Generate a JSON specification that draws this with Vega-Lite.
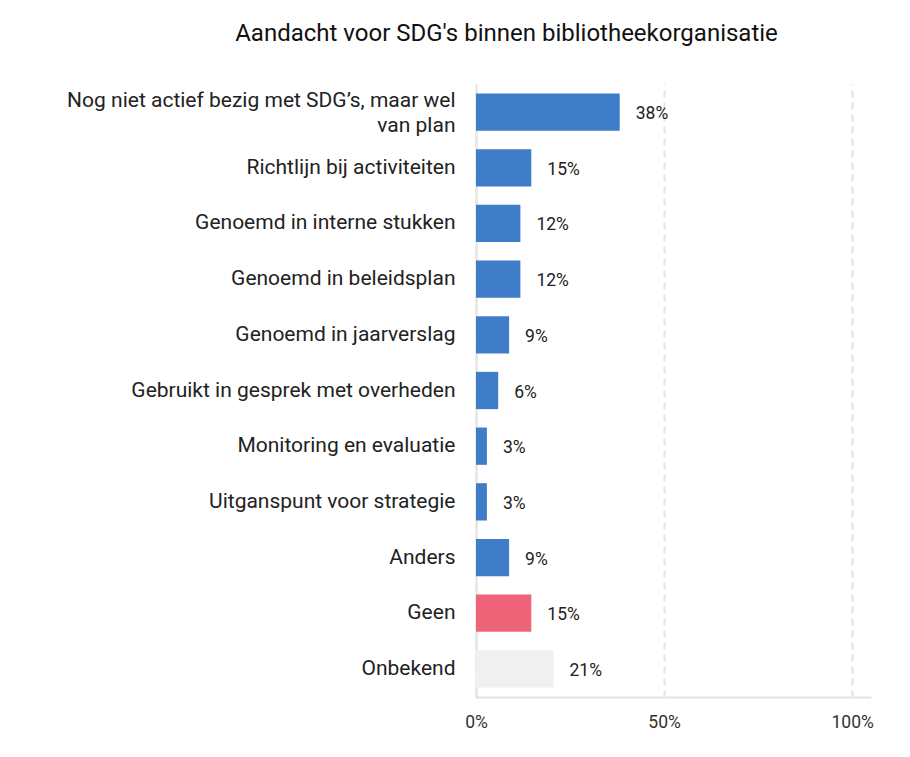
{
  "$schema": "https://vega.github.io/schema/vega-lite/v6.json",
  "autosize": "none",
  "width": 395,
  "height": 613,
  "padding": {"left": 476, "top": 84, "right": 39, "bottom": 60},
  "background": "white",
  "config": {
    "view": {"stroke": null},
    "font": "Roboto"
  },
  "title": {
    "text": "Aandacht voor SDG's binnen bibliotheekorganisatie",
    "anchor": "middle",
    "frame": "group",
    "dx": -167,
    "offset": 38,
    "fontSize": 24,
    "fontWeight": "normal",
    "color": "#111111",
    "font": "Roboto"
  },
  "data": {
    "values": [
      {"categorie": "Nog niet actief bezig met SDG’s, maar wel|van plan", "aandeel": 0.382, "groep": "activiteit"},
      {"categorie": "Richtlijn bij activiteiten", "aandeel": 0.147, "groep": "activiteit"},
      {"categorie": "Genoemd in interne stukken", "aandeel": 0.118, "groep": "activiteit"},
      {"categorie": "Genoemd in beleidsplan", "aandeel": 0.118, "groep": "activiteit"},
      {"categorie": "Genoemd in jaarverslag", "aandeel": 0.088, "groep": "activiteit"},
      {"categorie": "Gebruikt in gesprek met overheden", "aandeel": 0.059, "groep": "activiteit"},
      {"categorie": "Monitoring en evaluatie", "aandeel": 0.029, "groep": "activiteit"},
      {"categorie": "Uitganspunt voor strategie", "aandeel": 0.029, "groep": "activiteit"},
      {"categorie": "Anders", "aandeel": 0.088, "groep": "activiteit"},
      {"categorie": "Geen", "aandeel": 0.147, "groep": "geen"},
      {"categorie": "Onbekend", "aandeel": 0.206, "groep": "onbekend"}
    ]
  },
  "encoding": {
    "y": {
      "field": "categorie",
      "type": "nominal",
      "sort": null,
      "title": null,
      "scale": {"paddingInner": 0.33, "paddingOuter": 0.17},
      "axis": {
        "labelExpr": "split(datum.value, '|')",
        "labelFontSize": 21,
        "labelColor": "#222222",
        "labelPadding": 21,
        "labelLimit": 470,
        "labelLineHeight": 25,
        "labelOffset": {"condition": {"test": "indexof(datum.value, '|') >= 0", "value": -11}, "value": 0},
        "ticks": false,
        "domain": true,
        "domainColor": "#e3e3e3",
        "domainWidth": 2,
        "grid": false
      }
    },
    "x": {
      "field": "aandeel",
      "type": "quantitative",
      "title": null,
      "scale": {"domain": [0, 1.05], "nice": false},
      "axis": {
        "values": [0, 0.5, 1],
        "format": ".0%",
        "labelFlush": false,
        "labelFontSize": 17.5,
        "labelColor": "#333333",
        "labelPadding": 16,
        "ticks": false,
        "domain": true,
        "domainColor": "#e3e3e3",
        "domainWidth": 2,
        "grid": true,
        "gridColor": "#e3e3e3",
        "gridWidth": 2,
        "gridDash": [7, 5]
      }
    }
  },
  "layer": [
    {
      "mark": {"type": "bar"},
      "encoding": {
        "color": {
          "field": "groep",
          "type": "nominal",
          "scale": {"domain": ["activiteit", "geen", "onbekend"], "range": ["#3f7dc9", "#ef6379", "#f0f0f0"]},
          "legend": null
        }
      }
    },
    {
      "mark": {"type": "text", "align": "left", "baseline": "middle", "dx": 16, "dy": 2, "fontSize": 17.5, "color": "#222222"},
      "encoding": {
        "text": {"field": "aandeel", "type": "quantitative", "format": ".0%"}
      }
    }
  ]
}
